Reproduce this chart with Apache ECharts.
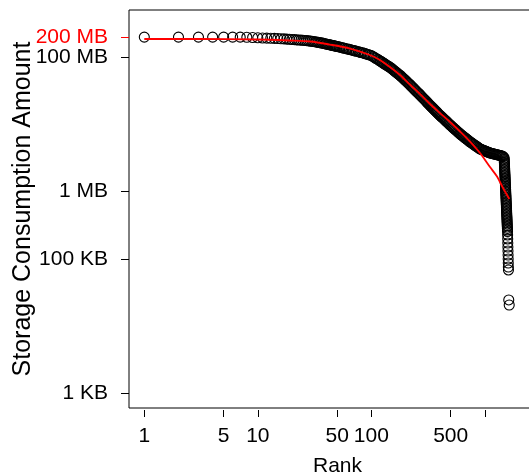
<!DOCTYPE html>
<html>
<head>
<meta charset="utf-8">
<style>
html, body { margin: 0; padding: 0; background: #fff; }
#chart { width: 529px; height: 476px; }
</style>
<script src="https://cdn.jsdelivr.net/npm/echarts@6/dist/echarts.min.js"></script>
</head>
<body>
<div id="chart"></div>
<script>
// rank of each plotted user (sampled along the band)
const ranks = [
  1, 2, 3, 4, 5, 6, 7, 8, 9, 10, 11, 12, 13, 14, 15, 16, 17, 18, 19, 20,
  21, 22, 23, 24, 25, 26, 27, 28, 29, 30, 31, 32, 33, 34, 35, 36, 37, 38, 39, 40,
  41, 42, 43, 44, 45, 46, 47, 48, 49, 50,
  52, 53, 55, 57, 58, 60, 62, 64, 66, 68, 70, 72, 74, 77, 79, 81, 84, 87, 89, 92,
  95, 98, 101, 104, 107, 110, 114, 117,
  120, 122, 125, 127, 130, 132, 135, 138, 141, 144,
  147, 150, 153, 156, 159, 162, 166, 169, 172, 176,
  180, 183, 187, 191, 195, 199, 203, 207, 211, 216,
  220, 224, 229, 234, 238, 243, 248, 253, 259, 264,
  269, 275, 280, 286, 292, 298, 304, 310, 317, 323,
  330, 337, 344, 351, 358, 365, 373, 380, 388, 396,
  404, 413, 421, 430, 439, 448, 457, 466, 476, 485,
  495, 506, 516, 526, 537, 548, 559, 571, 583, 595,
  607, 619, 632, 645, 658, 672, 686, 700, 714, 729,
  744, 759, 774, 790, 806, 823, 840, 857, 875, 892,
  911, 930, 949, 968, 988, 1008, 1029, 1050, 1072, 1094,
  1116, 1139, 1162, 1186, 1210, 1235, 1261, 1286, 1313, 1340,
  1367, 1395, 1424, 1453,
  1480, 1482, 1484, 1486, 1489, 1491, 1493, 1495, 1497, 1499,
  1501, 1504, 1506, 1508, 1510, 1512, 1514, 1516, 1519, 1521,
  1523, 1525, 1527, 1529, 1531, 1534, 1536, 1538, 1540, 1542,
  1544, 1546, 1549, 1551, 1553, 1555, 1557, 1559, 1561, 1564,
  1566, 1568, 1570, 1572, 1574, 1576, 1579, 1581, 1583, 1585,
  1588, 1591, 1594, 1597, 1600, 1603, 1606, 1609, 1612, 1615,
  1625, 1640
]
// storage used, in MB
const sizesMB = [
  200, 200, 200, 200, 200, 200, 199.5, 198.5, 197, 195, 194, 193, 192, 191.5, 190.5, 189, 188, 186.5, 185.5, 184,
  183, 182, 181, 180, 179, 178, 177, 175.5, 174, 173, 171.5, 170, 168.5, 167, 165.5, 164, 162.5, 161, 159.5, 158,
  156.5, 155, 153.5, 152, 151, 149.8, 148.5, 147.3, 146, 145,
  142.8, 141.4, 139.4, 137.5, 136.1, 134.3, 132.4, 131.1, 129.3, 127.6, 125.8, 124.6, 122.9, 121.2, 119.6, 117.9, 116.3, 114.3, 112.7, 111.2,
  109.3, 107.5, 104.9, 102.1, 99.0, 96.0, 93.1, 90.2,
  88.1, 86.2, 84.3, 82.4, 80.6, 78.8, 77.1, 75.4, 73.7, 72.1,
  70.5, 68.6, 66.7, 64.9, 63.2, 61.5, 59.8, 58.2, 56.6, 55.1,
  53.6, 51.9, 50.2, 48.6, 47.1, 45.6, 44.1, 42.7, 41.3, 40.0,
  38.7, 37.4, 36.1, 34.9, 33.7, 32.6, 31.5, 30.4, 29.4, 28.4,
  27.5, 26.5, 25.6, 24.7, 23.8, 23.0, 22.2, 21.4, 20.6, 19.9,
  19.2, 18.55, 17.9, 17.3, 16.7, 16.15, 15.6, 15.1, 14.55, 14.05,
  13.6, 13.16, 12.74, 12.33, 11.94, 11.56, 11.19, 10.83, 10.48, 10.15,
  9.83, 9.53, 9.24, 8.96, 8.69, 8.43, 8.17, 7.92, 7.68, 7.45,
  7.22, 7.02, 6.83, 6.65, 6.47, 6.29, 6.12, 5.96, 5.80, 5.64,
  5.49, 5.36, 5.23, 5.11, 4.99, 4.87, 4.75, 4.64, 4.53, 4.42,
  4.32, 4.26, 4.20, 4.14, 4.09, 4.03, 3.98, 3.92, 3.87, 3.82,
  3.77, 3.74, 3.71, 3.67, 3.64, 3.61, 3.58, 3.55, 3.52, 3.49,
  3.46, 3.42, 3.38, 3.33,
  3.17, 3.01, 2.86, 2.72, 2.58, 2.45, 2.33, 2.21, 2.10, 2.00,
  1.90, 1.80, 1.71, 1.63, 1.55, 1.47, 1.40, 1.33, 1.26, 1.20,
  1.14, 1.08, 1.02, 0.971, 0.922, 0.876, 0.832, 0.790, 0.751, 0.713,
  0.677, 0.645, 0.613, 0.582, 0.553, 0.525, 0.499, 0.474, 0.450, 0.428,
  0.406, 0.386, 0.367, 0.348, 0.331, 0.314, 0.299, 0.284, 0.269, 0.256,
  0.227, 0.198, 0.172, 0.150, 0.131, 0.114, 0.0996, 0.0869, 0.0757, 0.0684,
  0.0245, 0.0206
]
// red fitted curve
const fitRanks = [1, 3, 10, 19, 29, 43, 65, 97, 119, 146, 179, 219, 269, 329, 403, 494, 605, 741, 907, 1111, 1281, 1447, 1644]
const fitMB = [187.3, 187.3, 184, 177.8, 171.9, 155, 135.2, 108.2, 91.2, 71.7, 54.5, 39.4, 28.4, 20.2, 14.8, 10.9, 7.87, 5.58, 3.77, 2.33, 1.68, 1.135, 0.779]

const xTickValues = [1, 5, 10, 50, 100, 500, 1000]
const xTickLabels = ['1', '5', '10', '50', '100', '500', '']
const yTickValues = [1e3, 1e5, 1e6, 1e8] // bytes
const yTickLabels = ['1 KB', '100 KB', '1 MB', '100 MB']
const quotaValue = 2e8
const quotaLabel = '200 MB'

const lg = Math.log10
const MB = 1e6
const fontFamily = "'Liberation Sans', Arial, Helvetica, sans-serif"

function labelOf (values, labels) {
  return function (v) {
    for (let i = 0; i < values.length; i++) {
      if (Math.abs(lg(values[i]) - v) < 1e-6) return labels[i]
    }
    return ''
  }
}

const scatterData = ranks.map((r, i) => [lg(r), lg(sizesMB[i] * MB)])
const fitData = fitRanks.map((r, i) => [lg(r), lg(fitMB[i] * MB)])

const yMin = 2.781
const yMax = 8.704

let chart = echarts.init(document.getElementById('chart'))
let option = {
  animation: false,
  backgroundColor: '#fff',
  textStyle: { fontFamily: fontFamily },
  grid: {
    left: 129,
    right: -17,
    top: 10,
    bottom: 68,
    show: true,
    borderColor: '#000',
    borderWidth: 1,
    containLabel: false,
    outerBoundsMode: 'none'
  },
  xAxis: {
    type: 'value',
    min: -0.1348,
    max: 3.539,
    offset: 2,
    axisLine: { show: false, onZero: false },
    axisTick: {
      length: 7,
      customValues: xTickValues.map(lg),
      lineStyle: { color: '#000', width: 1 }
    },
    axisLabel: {
      customValues: xTickValues.filter((v, i) => xTickLabels[i] !== '').map(lg),
      formatter: labelOf(xTickValues, xTickLabels),
      fontSize: 21,
      color: '#000',
      margin: 16,
      fontFamily: fontFamily
    },
    splitLine: { show: false },
    name: 'Rank',
    nameLocation: 'middle',
    nameGap: 46,
    nameMoveOverlap: false,
    nameTextStyle: { fontSize: 21, color: '#000', fontFamily: fontFamily }
  },
  yAxis: [
    {
      type: 'value',
      position: 'left',
      min: yMin,
      max: yMax,
      axisLine: { show: false, onZero: false },
      axisTick: {
        length: 8,
        customValues: yTickValues.map(lg),
        lineStyle: { color: '#000', width: 1 }
      },
      axisLabel: {
        customValues: yTickValues.map(lg),
        formatter: labelOf(yTickValues, yTickLabels),
        fontSize: 21,
        color: '#000',
        margin: 21,
        fontFamily: fontFamily
      },
      splitLine: { show: false },
      name: 'Storage Consumption Amount',
      nameLocation: 'middle',
      nameGap: 93,
      nameMoveOverlap: false,
      nameTextStyle: { fontSize: 25, color: '#000', fontFamily: fontFamily }
    },
    {
      // 配额刻度（红色）
      type: 'value',
      position: 'left',
      min: yMin,
      max: yMax,
      axisLine: { show: false, onZero: false },
      axisTick: {
        length: 8,
        customValues: [lg(quotaValue)],
        lineStyle: { color: '#ff0000', width: 1 }
      },
      axisLabel: {
        customValues: [lg(quotaValue)],
        formatter: () => quotaLabel,
        fontSize: 21,
        color: '#ff0000',
        margin: 21,
        fontFamily: fontFamily
      },
      splitLine: { show: false }
    }
  ],
  series: [
    {
      type: 'scatter',
      data: scatterData,
      symbol: 'circle',
      symbolSize: 10,
      silent: true,
      itemStyle: {
        color: 'rgba(0,0,0,0)',
        borderColor: '#000',
        borderWidth: 1.1,
        opacity: 1
      },
      z: 2
    },
    {
      type: 'line',
      data: fitData,
      symbol: 'none',
      smooth: 0.3,
      silent: true,
      lineStyle: { color: '#ff0000', width: 1.8 },
      z: 3
    }
  ]
}
option && chart.setOption(option)
window.addEventListener('resize', () => {
  chart.resize()
})
</script>
</body>
</html>
